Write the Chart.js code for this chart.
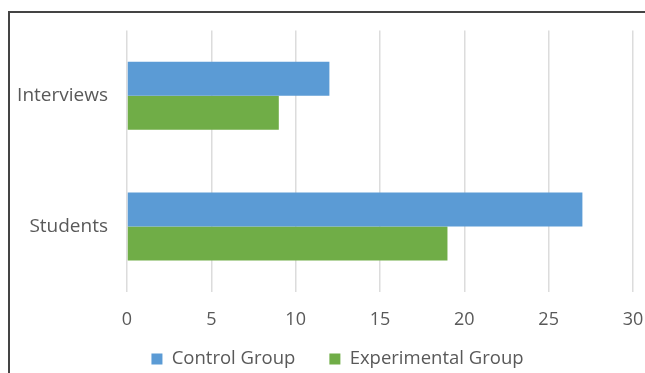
<!DOCTYPE html>
<html>
<head>
<meta charset="utf-8">
<script src="https://cdn.jsdelivr.net/npm/chart.js@4/dist/chart.umd.min.js"></script>
<style>
  html, body { margin: 0; padding: 0; background: #fff; }
  #wrap { position: relative; width: 645px; height: 373px; overflow: hidden; }
  #frame { position: absolute; left: 8px; top: 11px; width: 700px; height: 400px;
           border-left: 2px solid #444; border-top: 2px solid #444; }
  #c { position: absolute; left: 0; top: 0; }
</style>
</head>
<body>
<div id="wrap">
  <div id="frame"></div>
  <canvas id="c" width="645" height="373"></canvas>
</div>
<script>
// Categories and series
const categories = ['Interviews', 'Students'];
const controlGroup = [12, 27];
const experimentalGroup = [9, 19];
const xTicks = [0, 5, 10, 15, 20, 25, 30];

const textColor = '#595959';
const fontFamily = '"Open Sans", "Noto Sans", sans-serif';
const legendFontSize = 18.5;

// Places the legend row below the value axis, centred under the full frame
const legendPlacement = {
  id: 'legendPlacement',
  afterLayout(chart) {
    const lg = chart.legend;
    const shiftX = 21, textCenterY = 359;
    const pad = lg.options.labels.padding;
    lg.left += shiftX;
    lg.right += shiftX;
    lg.top = textCenterY - pad - legendFontSize / 2;
    lg.bottom = chart.height;
    lg.height = lg.bottom - lg.top;
  }
};

new Chart(document.getElementById('c'), {
  type: 'bar',
  data: {
    labels: categories,
    datasets: [
      { label: 'Control Group', data: controlGroup, backgroundColor: '#5B9BD5' },
      { label: 'Experimental Group', data: experimentalGroup, backgroundColor: '#70AD47' }
    ]
  },
  plugins: [legendPlacement],
  options: {
    indexAxis: 'y',
    responsive: false,
    animation: false,
    devicePixelRatio: 1,
    layout: { padding: { top: 30, right: 12, left: 0, bottom: 0 } },
    datasets: { bar: { barPercentage: 1, categoryPercentage: 0.52 } },
    scales: {
      x: {
        min: xTicks[0],
        max: xTicks[xTicks.length - 1],
        afterBuildTicks: (s) => { s.ticks = xTicks.map(v => ({ value: v })); },
        afterFit: (s) => { s.height = 61; s.paddingLeft = 0; s.paddingRight = 0; },
        grid: { color: '#dcdcdc', lineWidth: 1.5, drawTicks: false },
        border: { display: false },
        ticks: { color: textColor, padding: 17, font: { family: fontFamily, size: 18 } }
      },
      y: {
        afterFit: (s) => { s.width = 127; },
        grid: { display: false, drawTicks: false },
        border: { display: false },
        ticks: { color: textColor, padding: 19, font: { family: fontFamily, size: 19 } }
      }
    },
    plugins: {
      tooltip: { enabled: false },
      legend: {
        position: 'bottom',
        maxHeight: 20,
        labels: {
          color: textColor,
          boxWidth: 11,
          boxHeight: 11,
          padding: 34,
          font: { family: fontFamily, size: legendFontSize }
        }
      }
    }
  }
});
</script>
</body>
</html>
